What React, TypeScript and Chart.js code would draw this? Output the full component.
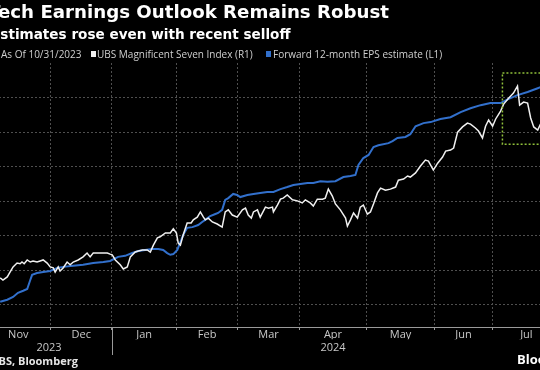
import React, { useEffect, useRef } from "react";
import { Chart, registerables } from "chart.js";

Chart.register(...registerables);

const FONT = '"Open Sans", "DejaVu Sans", sans-serif';
const TITLE_FONT = '"DejaVu Sans", "Open Sans", sans-serif';

// x = trading-day index counted from Nov 1, 2023
const indexDays = [
  4.6, 5.5, 6.9, 7.8, 8.8, 10.1, 11.1, 11.7, 12.4, 13.4,
  14.4, 15.3, 16.6, 17.6, 18.6, 19.9, 20.9, 21.9, 22.5, 23.5,
  24.1, 25.1, 26.4, 27.4, 28.4, 30.0, 31.6, 32.9, 33.9, 34.9,
  37.2, 39.5, 40.4, 41.1, 42.1, 43.7, 44.7, 46.0, 47.0, 48.6,
  49.6, 50.9, 52.5, 53.5, 54.5, 55.8, 56.7, 58.4, 60.0, 61.0,
  62.0, 62.6, 63.3, 64.2, 65.5, 66.8, 67.5, 68.8, 69.8, 70.8,
  71.4, 72.4, 73.7, 75.3, 76.9, 77.9, 78.9, 80.2, 81.8, 83.5,
  84.5, 85.4, 86.4, 87.1, 88.4, 89.3, 91.0, 92.0, 93.3, 93.6,
  94.9, 95.9, 96.8, 98.1, 99.8, 101.4, 103.0, 104.0, 105.6, 106.6,
  107.9, 109.6, 110.5, 111.5, 112.8, 113.8, 115.4, 117.1, 117.7, 118.7,
  119.7, 121.0, 121.9, 122.9, 124.2, 125.2, 126.2, 127.5, 128.5, 130.1,
  131.7, 133.4, 134.3, 136.0, 137.3, 138.2, 139.9, 141.5, 143.1, 144.1,
  145.7, 147.1, 148.7, 149.7, 151.3, 152.3, 153.6, 155.2, 156.8, 157.8,
  159.4, 160.4, 161.7, 162.7, 163.7, 165.0, 166.0, 167.6, 168.6, 170.2,
  171.8, 173.1, 173.8, 175.1, 176.4, 177.4, 178.4, 179.7, 180.6,
];
const indexValues = [
  7.8, 7.2, 8.1, 9.5, 11.0, 12.1, 11.9, 12.4, 11.9, 13.0,
  12.4, 12.7, 12.4, 12.7, 13.0, 12.1, 11.0, 10.7, 9.5, 11.0,
  9.8, 10.7, 12.4, 11.6, 12.4, 13.0, 13.9, 15.0, 13.9, 15.0,
  15.0, 15.0, 14.7, 14.5, 13.0, 11.6, 10.4, 11.0, 13.9, 15.3,
  15.6, 15.9, 15.9, 15.3, 17.3, 19.4, 19.7, 20.8, 20.8, 22.0,
  20.8, 17.9, 17.3, 20.2, 23.7, 23.7, 24.6, 25.4, 26.9, 25.4,
  24.6, 25.1, 24.0, 23.4, 22.5, 26.9, 27.5, 26.0, 25.4, 27.5,
  28.0, 26.0, 25.1, 26.9, 27.5, 25.4, 28.3, 28.0, 28.3, 26.9,
  28.9, 30.6, 30.9, 31.8, 30.4, 30.1, 29.5, 30.4, 29.5, 28.6,
  30.6, 30.6, 30.9, 33.5, 31.5, 29.2, 27.5, 25.1, 22.8, 24.6,
  26.6, 25.1, 28.3, 28.9, 26.3, 26.9, 29.2, 32.4, 33.8, 33.2,
  33.5, 34.1, 36.1, 36.4, 37.3, 37.0, 38.2, 40.2, 41.9, 41.6,
  39.0, 41.0, 42.8, 44.5, 44.8, 45.4, 50.0, 51.5, 52.6, 52.3,
  51.2, 50.3, 48.3, 51.7, 53.5, 51.7, 53.8, 56.1, 58.1, 59.8,
  61.3, 63.3, 57.8, 58.7, 58.4, 54.1, 51.5, 50.6, 52.3,
];

const epsDays = [
  4.6, 6.9, 8.8, 10.4, 12.1, 13.4, 14.4, 15.0, 16.6, 18.6,
  20.9, 23.2, 25.1, 28.4, 31.6, 34.9, 38.2, 40.4, 43.0, 45.3,
  47.6, 49.6, 51.8, 54.1, 56.1, 57.7, 59.0, 60.0, 61.0, 62.3,
  63.3, 64.2, 65.5, 67.2, 69.1, 70.4, 71.4, 73.0, 74.7, 75.6,
  76.9, 77.9, 78.9, 80.5, 81.8, 82.8, 85.1, 87.1, 89.3, 91.6,
  93.6, 95.9, 98.1, 100.1, 102.4, 104.7, 106.6, 108.9, 111.2, 113.8,
  116.4, 118.7, 120.3, 121.3, 122.9, 124.6, 126.2, 127.8, 131.1, 132.4,
  134.0, 136.6, 138.2, 139.9, 142.5, 144.8, 148.0, 151.3, 154.6, 157.8,
  161.1, 164.3, 167.6, 169.9, 173.1, 176.4, 179.7, 180.6,
];
const epsValues = [
  0.9, 1.5, 2.3, 3.5, 4.1, 4.6, 7.2, 8.7, 9.2, 9.5,
  9.8, 10.7, 11.0, 11.3, 11.6, 12.1, 12.4, 12.7, 13.9, 14.2,
  15.0, 15.6, 15.9, 16.2, 16.2, 15.9, 15.0, 14.5, 14.7, 15.9,
  18.2, 20.2, 22.3, 22.5, 23.1, 24.0, 24.6, 25.7, 26.3, 26.6,
  27.5, 30.4, 30.9, 32.1, 31.8, 31.2, 31.8, 32.1, 32.4, 32.7,
  32.7, 33.5, 34.1, 34.7, 35.0, 35.3, 35.3, 35.8, 35.6, 35.8,
  37.0, 37.3, 37.6, 40.5, 42.5, 43.4, 45.7, 46.2, 46.8, 47.4,
  48.3, 48.6, 49.4, 51.7, 52.6, 52.9, 53.8, 54.3, 55.8, 56.9,
  57.8, 58.4, 58.4, 59.5, 60.7, 61.6, 62.7, 63.0,
];

const monthStarts = [0, 21, 41, 62, 82, 102, 124, 146, 165];
const monthMids = [10.5, 31, 51.5, 72, 92, 113, 135, 155.5, 176];
const monthLabels = ["Nov", "Dec", "Jan", "Feb", "Mar", "Apr", "May", "Jun", "Jul"];
const yearStarts = [0, 41];
const yearLabels = ["2023", "2024"];
const yGridValues = [0, 10, 20, 30, 40, 50, 60];
const boxDays = [168.2, 184];
const boxValues = [46.5, 67.1];

const GRID = "#4f4f4f";
const AXIS = "#9a9a9a";
const TICK_TEXT = "#c8c8c8";

const overlayPlugin = {
  id: "overlay",
  afterDraw(chart: any) {
    const { ctx, chartArea } = chart;
    const x = chart.scales.x;
    const y = chart.scales.y;
    ctx.save();
    ctx.strokeStyle = "#8fbf3a";
    ctx.lineWidth = 1.5;
    ctx.setLineDash([2, 2]);
    const l = x.getPixelForValue(boxDays[0]);
    const r = x.getPixelForValue(boxDays[1]);
    const t = y.getPixelForValue(boxValues[1]);
    const b = y.getPixelForValue(boxValues[0]);
    ctx.strokeRect(l, t, r - l, b - t);
    ctx.setLineDash([]);
    ctx.strokeStyle = AXIS;
    ctx.lineWidth = 1;
    yearStarts.slice(1).forEach((d) => {
      const px = Math.round(x.getPixelForValue(d)) + 0.5;
      ctx.beginPath();
      ctx.moveTo(px, chartArea.bottom);
      ctx.lineTo(px, chartArea.bottom + 28);
      ctx.stroke();
    });
    ctx.fillStyle = TICK_TEXT;
    ctx.font = `11px ${FONT}`;
    ctx.textAlign = "center";
    ctx.textBaseline = "middle";
    yearLabels.forEach((lab, i) => {
      const a = yearStarts[i];
      const e = i + 1 < yearStarts.length ? yearStarts[i + 1] : x.max;
      ctx.fillText(lab, x.getPixelForValue((a + e) / 2), chartArea.bottom + 21);
    });
    ctx.restore();
  },
};

export default function App() {
  const ref = useRef<HTMLCanvasElement | null>(null);

  useEffect(() => {
    if (!ref.current) return;
    const allTicks = [...monthStarts, ...monthMids].sort((a, b) => a - b);
    const chart = new Chart(ref.current, {
      type: "line",
      data: {
        datasets: [
          {
            label: "UBS Magnificent Seven Index (R1)",
            data: indexDays.map((d, i) => ({ x: d, y: indexValues[i] })),
            borderColor: "#f0f0f0",
            borderWidth: 1.5,
            pointRadius: 0,
            tension: 0,
          },
          {
            label: "Forward 12-month EPS estimate (L1)",
            data: epsDays.map((d, i) => ({ x: d, y: epsValues[i] })),
            borderColor: "#3270cc",
            borderWidth: 2,
            pointRadius: 0,
            tension: 0,
          },
        ],
      },
      options: {
        animation: false,
        responsive: true,
        maintainAspectRatio: false,
        layout: { padding: { top: 63, bottom: 30.8, left: 0, right: 0 } },
        plugins: { legend: { display: false }, tooltip: { enabled: false } },
        scales: {
          x: {
            type: "linear",
            min: -1,
            max: 185,
            afterBuildTicks: (s: any) => {
              s.ticks = allTicks.map((v) => ({ value: v }));
            },
            ticks: {
              autoSkip: false,
              maxRotation: 0,
              color: TICK_TEXT,
              padding: -2,
              font: { family: FONT, size: 11 },
              callback: (v: any) => {
                const i = monthMids.indexOf(Number(v));
                return i >= 0 ? monthLabels[i] : "";
              },
            },
            grid: {
              color: (c: any) => (monthStarts.includes(c.tick?.value) ? GRID : "transparent"),
              tickColor: (c: any) => (monthStarts.includes(c.tick?.value) ? AXIS : "transparent"),
              tickLength: 3,
              drawTicks: true,
            },
            border: { display: true, color: AXIS, width: 1, dash: [2, 2] },
          },
          y: {
            min: -6.4,
            max: 70,
            afterBuildTicks: (s: any) => {
              s.ticks = yGridValues.map((v) => ({ value: v }));
            },
            ticks: { display: false },
            grid: { color: GRID, drawTicks: false },
            border: { display: false, dash: [2, 2] },
          },
        },
      },
      plugins: [overlayPlugin],
    });
    return () => chart.destroy();
  }, []);

  const txt: React.CSSProperties = { position: "absolute", whiteSpace: "nowrap", fontFamily: FONT };

  return (
    <div
      style={{
        position: "fixed",
        left: 0,
        top: 0,
        width: 540,
        height: 370,
        overflow: "hidden",
        background: "#000",
      }}
    >
      <div style={{ position: "absolute", left: -17, top: 0, width: 571, height: 370 }}>
        <canvas ref={ref} />
      </div>
      <div style={{ ...txt, fontFamily: TITLE_FONT, left: -12, top: 1, fontSize: 18.2, lineHeight: "22px", fontWeight: 700, color: "#fff" }}>
        Tech Earnings Outlook Remains Robust
      </div>
      <div style={{ ...txt, fontFamily: TITLE_FONT, left: -9, top: 26, fontSize: 13.6, lineHeight: "16px", fontWeight: 700, color: "#fff" }}>
        Estimates rose even with recent selloff
      </div>
      <div style={{ ...txt, left: 1, top: 48, fontSize: 10, lineHeight: "12px", color: "#cfcfcf" }}>
        As Of 10/31/2023
      </div>
      <div style={{ position: "absolute", left: 91, top: 51, width: 5, height: 6, background: "#f0f0f0" }} />
      <div style={{ ...txt, left: 97, top: 48, fontSize: 10, lineHeight: "12px", color: "#cfcfcf" }}>
        UBS Magnificent Seven Index (R1)
      </div>
      <div style={{ position: "absolute", left: 266, top: 51, width: 5, height: 6, background: "#3270cc" }} />
      <div style={{ ...txt, left: 273, top: 48, fontSize: 10, lineHeight: "12px", color: "#cfcfcf" }}>
        Forward 12-month EPS estimate (L1)
      </div>
      <div style={{ ...txt, left: -53, top: 354, fontSize: 11, lineHeight: "13px", fontWeight: 700, color: "#e6e6e6" }}>
        Source: UBS, Bloomberg
      </div>
      <div style={{ ...txt, left: 517, top: 352, fontSize: 13, lineHeight: "15px", fontWeight: 700, color: "#fff" }}>
        Bloomberg
      </div>
    </div>
  );
}
